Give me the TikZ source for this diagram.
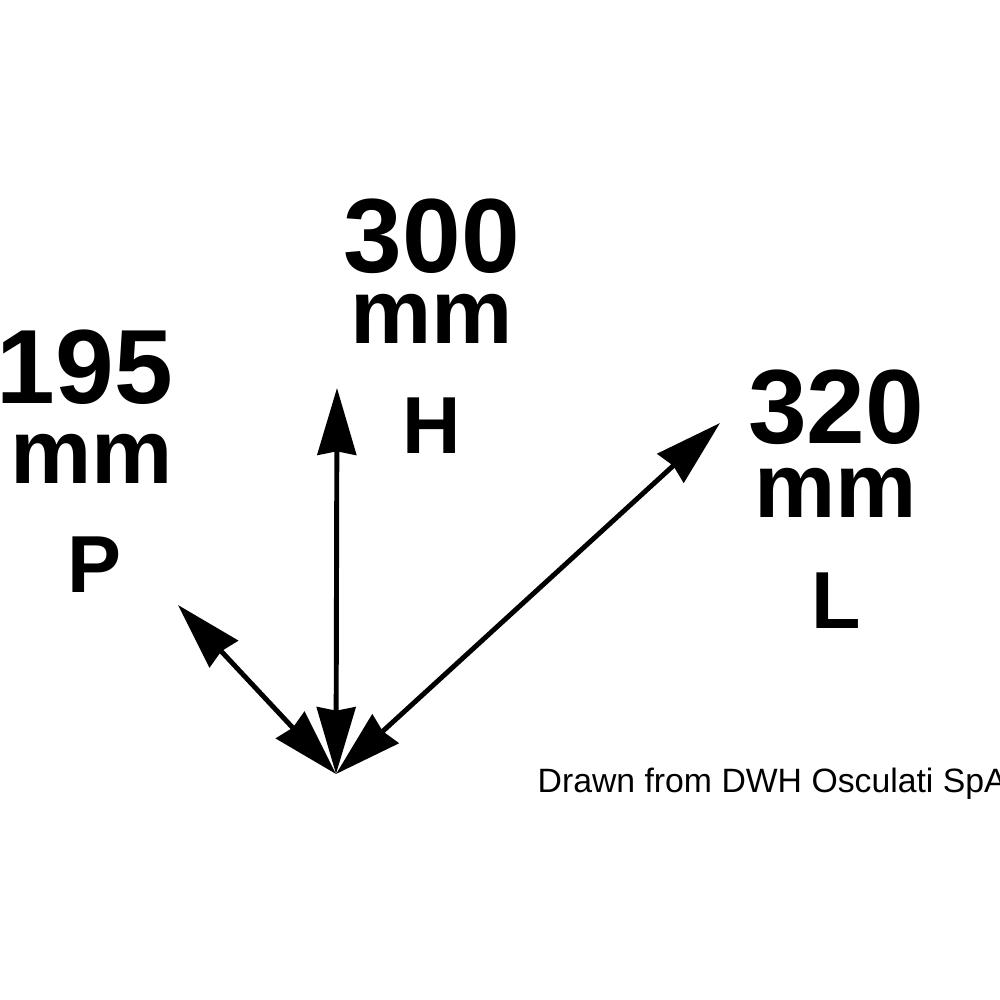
\documentclass[tikz,border=0pt]{standalone}
\usepackage{fontspec}
\setmainfont{Liberation Sans}
\usetikzlibrary{positioning}
\usetikzlibrary{arrows.meta}
\tikzset{
    size/.style = {font=\fontsize{30}{30}\selectfont\bfseries, inner sep=0pt, anchor=base},
    unit/.style = {font=\fontsize{26}{26}\selectfont\bfseries, inner sep=0pt},
    axis/.style = {font=\fontsize{23}{23}\selectfont\bfseries, inner sep=0pt},
    dim/.style = {draw, line width=1.4pt, {Stealth[length=19pt,width=11pt,inset=1pt]}-{Stealth[length=19pt,width=11pt,inset=1pt]}}}

\begin{document}
\begin{tikzpicture}[x=0.01cm, y=-0.01cm]
    \useasboundingbox (0,0) rectangle (1000,1000);
    % origin and arrow tips
    \coordinate (O) at (336,774);
    \coordinate (Htip) at (337,388);
    \coordinate (Ptip) at (178,605);
    \coordinate (Ltip) at (720,423);
    \draw[dim] (O) -- (Htip);
    \draw[dim] (O) -- (Ptip);
    \draw[dim] (O) -- (Ltip);
    % labels
    \node[size] (n300) at (432,272) {300};
    \node[unit, below=0.71cm of n300.base, anchor=base] (mmH) {mm};
    \node[axis, below=1.10cm of mmH.base, anchor=base] (H) {H};
    \node[size] (n195) at (85,403) {195};
    \node[unit, below=0.80cm of n195.base, anchor=base, xshift=0.07cm] (mmP) {mm};
    \node[axis, below=1.09cm of mmP.base, anchor=base, xshift=0.02cm] (P) {P};
    \node[size] (n320) at (836,443) {320};
    \node[unit, below=0.74cm of n320.base, anchor=base] (mmL) {mm};
    \node[axis, below=1.11cm of mmL.base, anchor=base] (L) {L};
    \node[font=\fontsize{9.6}{9.6}\selectfont, inner sep=0pt, anchor=base west] (credit) at (537,792) {Drawn from DWH Osculati SpA};
\end{tikzpicture}
\end{document}
